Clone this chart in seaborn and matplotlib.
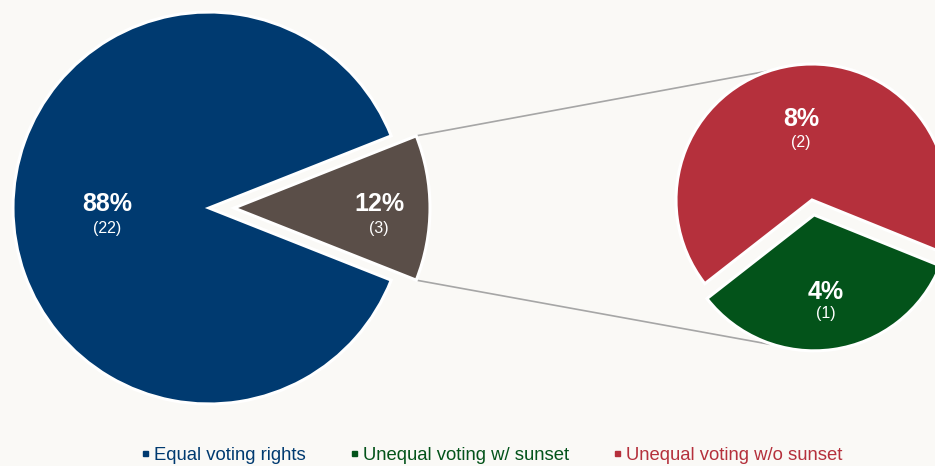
import numpy as np
import matplotlib
matplotlib.use("Agg")
import matplotlib.pyplot as plt
from matplotlib.lines import Line2D
import seaborn as sns

# ---- data ----
main_labels = ["Equal voting rights", "Unequal voting"]
main_counts = [22, 3]
sub_labels = ["Unequal voting w/ sunset", "Unequal voting w/o sunset"]
sub_counts = [1, 2]
legend_labels = ["Equal voting rights", "Unequal voting w/ sunset", "Unequal voting w/o sunset"]

BG = "#FAF9F6"
sns.set_theme(style="white")
plt.rcParams["font.family"] = ["Liberation Sans", "DejaVu Sans"]

pal = sns.color_palette(["#003A70", "#5A4E48", "#03531A", "#B5303C"])
c_blue, c_brown, c_green, c_red = pal

fig = plt.figure(figsize=(9.35, 4.66), dpi=100, facecolor=BG)
ax = fig.add_axes([0, 0, 1, 1])
ax.set_facecolor(BG)

total = sum(main_counts)

# ---- main pie ----
main_center = (209, 258)
main_r = 196
other_frac = main_counts[1] / total
w_main, _ = ax.pie(
    [main_counts[1], main_counts[0]],
    colors=[c_brown, c_blue],
    startangle=-other_frac * 180,
    explode=[25, 0],
    center=main_center,
    radius=main_r,
    wedgeprops=dict(edgecolor="white", linewidth=2.2),
    frame=True,
)

# ---- sub pie ----
sub_center = (812, 266)
sub_r = 136
w_sub, _ = ax.pie(
    sub_counts,
    colors=[c_green, c_red],
    startangle=-142,
    explode=[15, 0],
    center=sub_center,
    radius=sub_r,
    wedgeprops=dict(edgecolor="white", linewidth=2.2),
    frame=True,
)
ax.set_xlim(0, 935)
ax.set_ylim(0, 466)
ax.set_aspect("equal")
ax.axis("off")

def label_wedge(w, count, dist, big=18, small=11.5, gap=24):
    th = np.deg2rad((w.theta1 + w.theta2) / 2)
    cx, cy = w.center
    x = cx + dist * w.r * np.cos(th)
    y = cy + dist * w.r * np.sin(th)
    pct = f"{round(count / total * 100)}%"
    ax.text(x, y + 4, pct, color="white", fontsize=big, fontweight="bold",
            ha="center", va="center", zorder=5)
    ax.text(x, y + 4 - gap, f"({count})", color="white", fontsize=small,
            ha="center", va="center", zorder=5)

label_wedge(w_main[1], main_counts[0], 0.52)
label_wedge(w_main[0], main_counts[1], 0.74)
label_wedge(w_sub[1], sub_counts[1], 0.57, gap=23)
label_wedge(w_sub[0], sub_counts[0], 0.60, gap=22)

# ---- connector lines ----
wb = w_main[0]
bx, by = wb.center
t1, t2 = np.deg2rad(wb.theta1), np.deg2rad(wb.theta2)
p_top = (bx + wb.r * np.cos(t2), by + wb.r * np.sin(t2))
p_bot = (bx + wb.r * np.cos(t1), by + wb.r * np.sin(t1))
scx, scy = sub_center
q_top = (scx + sub_r * np.cos(np.deg2rad(108)), scy + sub_r * np.sin(np.deg2rad(108)))
q_bot = (scx + sub_r * np.cos(np.deg2rad(-108)), scy - 15 + sub_r * np.sin(np.deg2rad(-108)))
for p, q in [(p_top, q_top), (p_bot, q_bot)]:
    ax.plot([p[0], q[0]], [p[1], q[1]], color="#A6A6A6", lw=1.2, zorder=0.5)

# ---- legend ----
leg_colors = [c_blue, c_green, c_red]
handles = [Line2D([0], [0], marker="s", linestyle="none", markersize=3.6,
                  markerfacecolor=c, markeredgecolor=c) for c in leg_colors]
leg = fig.legend(handles, legend_labels, loc="center", bbox_to_anchor=(0.526, 0.023),
                 ncol=3, frameon=False, fontsize=13.3, handlelength=0.4,
                 handletextpad=0.3, columnspacing=2.4, labelcolor=leg_colors)

fig.savefig("out.png", dpi=100, facecolor=BG)
